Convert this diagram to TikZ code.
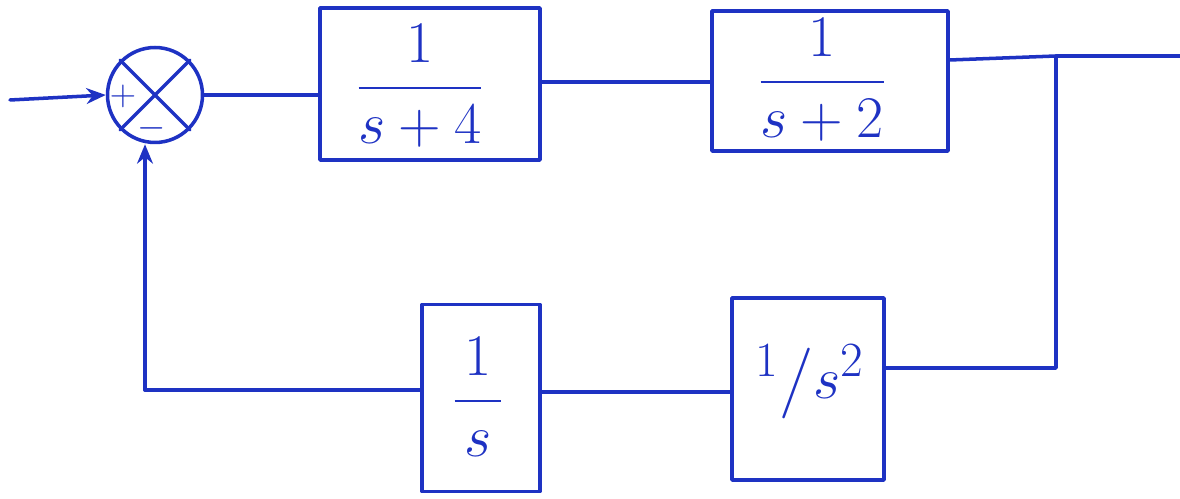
\documentclass[tikz,border=0pt]{standalone}
\usepackage{amsmath}
\usetikzlibrary{arrows.meta}
\definecolor{ink}{RGB}{30,50,195}
\begin{document}
\begin{tikzpicture}[x=0.02cm,y=-0.02cm,
  ink/.style={draw=ink,line width=2pt,line cap=round,line join=round},
  blk/.style={ink,rectangle,inner sep=0pt},
  lbl/.style={text=ink,font=\Huge,scale=1.35,transform shape},
  sgn/.style={text=ink,font=\huge,inner sep=0pt},
  arr/.style={ink,-{Stealth[length=11pt,width=9pt]}}]
\useasboundingbox (0,0) rectangle (1180,499);
% summing junction
\node[ink,circle,minimum size=1.9cm] (sum) at (155,95) {};
\draw[ink] (sum.north east) -- (sum.south west);
\draw[ink] (sum.north west) -- (sum.south east);
\node[sgn] (plus) at (123,96) {$+$};
\node[sgn] (minus) at (152,128) {$-$};
% blocks
\node[blk,minimum width=4.4cm,minimum height=3.04cm] (b1) at (430,84) {};
\node[blk,minimum width=4.72cm,minimum height=2.8cm] (b2) at (830,81) {};
\node[blk,minimum width=3.04cm,minimum height=3.64cm] (b3) at (808,389) {};
\node[blk,minimum width=2.36cm,minimum height=3.74cm] (b4) at (481,398) {};
% labels
\node[lbl] (t1) at (420,86) {$\dfrac{\;\;1\;\;}{s+4}$};
\node[lbl] (t2) at (822,80) {$\dfrac{\;\;1\;\;}{s+2}$};
\node[lbl] (t3) at (810,382) {$^{1}\big/ s^{2}$};
\node[lbl] (t4) at (478,397) {$\dfrac{\,1\,}{s}$};
% coordinates
\coordinate (in) at (10,100);
\coordinate (br) at (1056,56);
\coordinate (out) at (1180,56);
\coordinate (fbr) at (1056,368);
\coordinate (fbl) at (145,390);
% connectors
\draw[arr] (in) -- (sum.west);
\draw[ink] (sum.east) -- (b1.west |- sum.east);
\draw[ink] (b1.east |- 0,82) -- (b2.west |- 0,82);
\draw[ink] (b2.east |- 0,60) -- (br) -- (out);
\draw[ink] (br) -- (fbr) -- (b3.east |- fbr);
\draw[ink] (b3.west |- 0,392) -- (b4.east |- 0,392);
\draw[ink] (b4.west |- fbl) -- (fbl);
\draw[arr] (fbl) -- (sum.south -| fbl);
\end{tikzpicture}
\end{document}
